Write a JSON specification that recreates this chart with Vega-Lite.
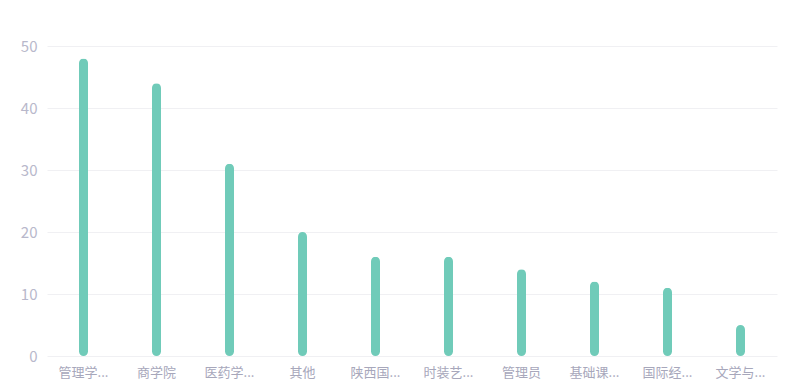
{
  "$schema": "https://vega.github.io/schema/vega-lite/v6.json",
  "width": 730,
  "height": 310,
  "autosize": {"type": "none"},
  "padding": {"left": 47, "top": 46, "right": 25, "bottom": 34},
  "background": "white",
  "data": {"values": [
    {"name": "管理学...", "value": 48},
    {"name": "商学院", "value": 44},
    {"name": "医药学...", "value": 31},
    {"name": "其他", "value": 20},
    {"name": "陕西国...", "value": 16},
    {"name": "时装艺...", "value": 16},
    {"name": "管理员", "value": 14},
    {"name": "基础课...", "value": 12},
    {"name": "国际经...", "value": 11},
    {"name": "文学与...", "value": 5}
  ]},
  "mark": {"type": "bar", "size": 9, "cornerRadius": 4.5, "color": "#70cbb9"},
  "encoding": {
    "x": {"field": "name", "type": "nominal", "sort": null, "title": null,
      "scale": {"paddingInner": 0, "paddingOuter": 0},
      "axis": {"labelAngle": 0, "domain": false, "ticks": false, "labelPadding": 10, "labelFont": "Noto Sans CJK SC", "labelFontSize": 13, "labelColor": "#a7a7bb"}},
    "y": {"field": "value", "type": "quantitative", "title": null,
      "scale": {"domain": [0, 50]},
      "axis": {"values": [0, 10, 20, 30, 40, 50], "domain": false, "ticks": false, "labelPadding": 10, "labelFont": "Noto Sans CJK SC", "labelFontSize": 15, "labelColor": "#b8b8cb", "gridColor": "#f0f0f3"}}
  },
  "config": {"view": {"stroke": null}}
}
